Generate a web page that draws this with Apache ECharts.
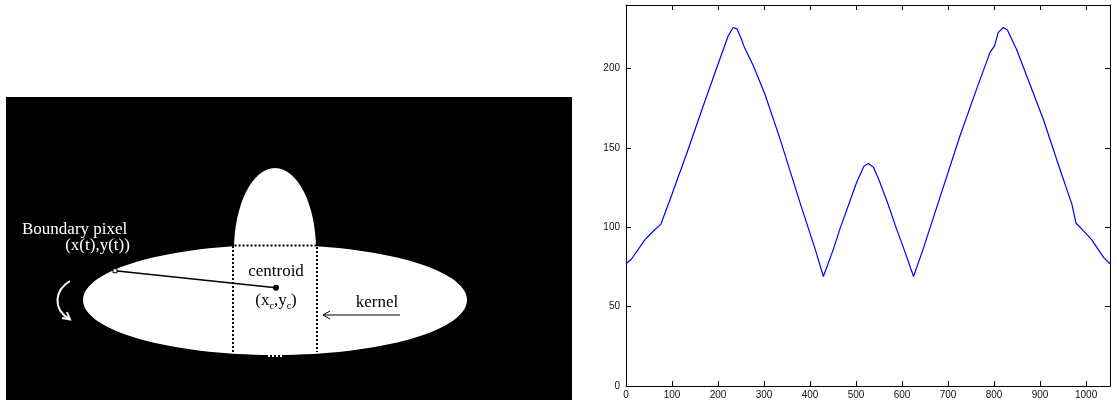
<!DOCTYPE html>
<html>
<head>
<meta charset="utf-8">
<script src="https://cdn.jsdelivr.net/npm/echarts@6/dist/echarts.min.js"></script>
<style>
  html, body { margin: 0; padding: 0; background: #fff; }
  #main { width: 1117px; height: 400px; }
</style>
</head>
<body>
<div id="main"></div>
<script>
// boundary distance signature (pixel index along the contour -> distance to centroid)
var xs = [0, 12, 41, 59, 76, 99, 135, 168, 200, 222, 233, 241, 251, 257, 277, 302, 335, 378, 411, 429,
  451, 465, 501, 517, 527, 538, 549, 567, 588, 604, 625, 646, 726, 762, 791, 801, 809, 820, 829,
  849, 871, 907, 943, 969, 978, 994, 1012, 1038, 1052];
var ys = [77, 80, 92, 97.5, 102, 120, 149, 176.5, 202.7, 220.5, 225.8, 225, 218.4, 213.6, 201.6, 183.8, 155.5, 115.7, 86.4, 69,
  86.4, 99, 128, 138.4, 140.2, 137.7, 130.4, 116.7, 99, 86.4, 69, 86.4, 157.6, 187, 210, 214.2, 222.6, 225.8, 224.3,
  212, 195.3, 168, 136.7, 114.7, 102.7, 97.9, 92.2, 81, 77];
var xTicks = [0, 100, 200, 300, 400, 500, 600, 700, 800, 900, 1000];
var yTicks = [0, 50, 100, 150, 200];

var signature = xs.map(function (x, i) { return [x, ys[i]]; });

var serif = "Liberation Serif";

var myChart = echarts.init(document.getElementById("main"));

function xAxisOpt(pos, labels) {
  return {
    type: "value", position: pos, min: 0, max: 1052, interval: 100,
    axisLine: { show: true, onZero: false, lineStyle: { color: "#000", width: 1 } },
    axisTick: { show: true, inside: true, length: 5, lineStyle: { color: "#000" } },
    axisLabel: {
      show: labels, margin: 4, color: "#111", fontSize: 10, fontFamily: "Liberation Sans",
      showMaxLabel: false,
      formatter: function (v) { return xTicks.indexOf(v) >= 0 ? String(v) : ""; }
    },
    splitLine: { show: false }
  };
}
function yAxisOpt(pos, labels) {
  return {
    type: "value", position: pos, min: 0, max: 240, interval: 50,
    axisLine: { show: true, onZero: false, lineStyle: { color: "#000", width: 1 } },
    axisTick: { show: true, inside: true, length: 5, lineStyle: { color: "#000" } },
    axisLabel: {
      show: labels, margin: 6, color: "#111", fontSize: 10, fontFamily: "Liberation Sans",
      showMaxLabel: false,
      formatter: function (v) { return yTicks.indexOf(v) >= 0 ? String(v) : ""; }
    },
    splitLine: { show: false }
  };
}

myChart.setOption({
  animation: false,
  backgroundColor: "#fff",
  grid: { left: 626, top: 5, width: 484, height: 382 },
  xAxis: [xAxisOpt("bottom", true), xAxisOpt("top", false)],
  yAxis: [yAxisOpt("left", true), yAxisOpt("right", false)],
  series: [
    {
      type: "line",
      data: signature,
      showSymbol: false,
      lineStyle: { color: "#0000ff", width: 1.2 },
      itemStyle: { color: "#0000ff" }
    }
  ],
  // left illustration: object with kernel and centroid
  graphic: [
    { type: "rect", shape: { x: 6, y: 97, width: 566, height: 303 }, style: { fill: "#000" } },
    { type: "ellipse", shape: { cx: 275, cy: 250, rx: 41, ry: 82 }, style: { fill: "#fff" } },
    { type: "ellipse", shape: { cx: 275, cy: 300, rx: 192, ry: 55 }, style: { fill: "#fff" } },
    { type: "polyline", shape: { points: [[233, 352], [233, 245.5], [317, 245.5], [317, 352]] },
      style: { stroke: "#000", lineWidth: 2, lineDash: [2, 2], fill: null } },
    { type: "line", shape: { x1: 268, y1: 356, x2: 283, y2: 356 },
      style: { stroke: "#fff", lineWidth: 2, lineDash: [2, 2] } },
    { type: "line", shape: { x1: 115, y1: 270.7, x2: 276, y2: 287.7 },
      style: { stroke: "#000", lineWidth: 1.5 } },
    { type: "rect", shape: { x: 113, y: 268.7, width: 4, height: 4 },
      style: { fill: "#fff", stroke: "#000", lineWidth: 1 } },
    { type: "circle", shape: { cx: 276, cy: 287.7, r: 3 }, style: { fill: "#000" } },
    { type: "line", shape: { x1: 400, y1: 315, x2: 323, y2: 315 }, style: { stroke: "#000", lineWidth: 1 } },
    { type: "polyline", shape: { points: [[330, 311], [323, 315], [330, 319]] },
      style: { stroke: "#000", lineWidth: 1, fill: null } },
    { type: "bezierCurve", shape: { x1: 70, y1: 281, cpx1: 55, cpy1: 290, cpx2: 52, cpy2: 308, x2: 69, y2: 319 },
      style: { stroke: "#fff", lineWidth: 2, fill: null } },
    { type: "polyline", shape: { points: [[62, 318], [70, 319.5], [67, 312]] },
      style: { stroke: "#fff", lineWidth: 2, fill: null } },
    { type: "text", x: 22, y: 230,
      style: { text: "Boundary pixel", fill: "#fff", font: "17px " + serif, align: "left", verticalAlign: "middle" } },
    { type: "text", x: 97.5, y: 246,
      style: { text: "(x(t),y(t))", fill: "#fff", font: "17px " + serif, align: "center", verticalAlign: "middle" } },
    { type: "text", x: 276, y: 272,
      style: { text: "centroid", fill: "#000", font: "17px " + serif, align: "center", verticalAlign: "middle" } },
    { type: "text", x: 276, y: 301,
      style: {
        text: "(x{s|c},y{s|c})", fill: "#000", fontFamily: serif, fontSize: 17, lineHeight: 20,
        align: "center", verticalAlign: "middle",
        rich: { s: { fontFamily: serif, fontSize: 10, fill: "#000", verticalAlign: "bottom" } }
      } },
    { type: "text", x: 377, y: 303,
      style: { text: "kernel", fill: "#000", font: "17px " + serif, align: "center", verticalAlign: "middle" } }
  ]
});
</script>
</body>
</html>
